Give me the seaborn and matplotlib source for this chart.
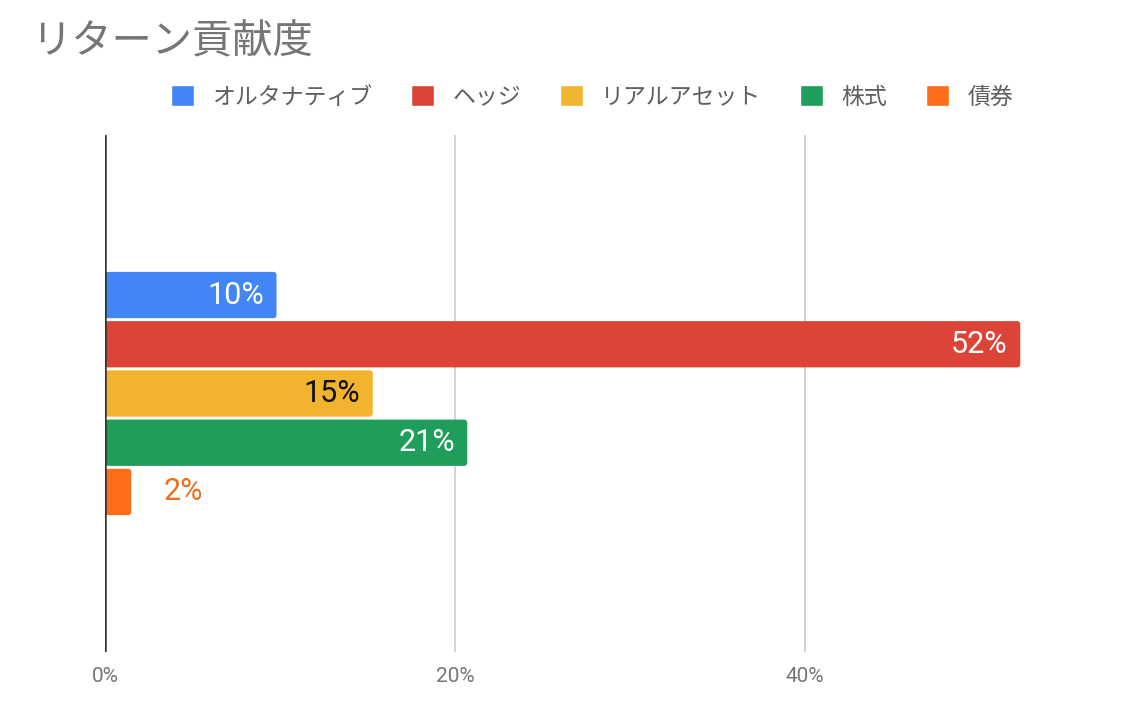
import numpy as np
import pandas as pd
import seaborn as sns
import matplotlib.pyplot as plt
from matplotlib.patches import FancyBboxPatch
from matplotlib.ticker import PercentFormatter

# データ
series = ['オルタナティブ', 'ヘッジ', 'リアルアセット', '株式', '債券']
values = [0.098, 0.523, 0.153, 0.207, 0.015]
category = ['リターン']
colors = ['#4285F4', '#DB4437', '#F2B32E', '#1F9D5A', '#FF6D1A']
label_colors = ['white', 'white', '#111111', 'white', '#E8711F']
label_inside = [True, True, True, True, False]

df = pd.DataFrame({'category': category * len(series), 'series': series, 'value': values})

sns.set_style('white')
plt.rcParams['font.family'] = ['Roboto', 'Noto Sans CJK JP', 'DejaVu Sans']

fig = plt.figure(figsize=(11.26, 7.12), dpi=100)
W, H = 1126, 712
ax = fig.add_axes([105 / W, 1 - 652 / H, 1000 / W, 517 / H])

sns.barplot(data=df, x='value', y='category', hue='series', palette=colors,
            orient='h', gap=0.06, saturation=1, ax=ax, legend=True)

xmax = 0.2 * 1000 / 350
ax.set_xlim(0, xmax)
ax.set_ylim(0.84, -0.84)
ax.xaxis.set_major_locator(plt.FixedLocator([0, 0.2, 0.4]))
ax.xaxis.set_major_formatter(PercentFormatter(1.0, decimals=0))
ax.set_yticks([])
ax.set_xlabel('')
ax.set_ylabel('')
for s in ax.spines.values():
    s.set_visible(False)
ax.grid(axis='x', color='#cccccc', linewidth=1.2)
ax.axvline(0, color='#333333', linewidth=1.8, zorder=4)
ax.tick_params(axis='x', length=0, pad=11, labelsize=15, labelcolor='#757575')

# 角丸のバーに置き換え
px_x = 1000 / xmax
px_y = 517 / 1.68
for cont in ax.containers:
    for p in cont.patches:
        x0, y0, w, h = p.get_x(), p.get_y(), p.get_width(), p.get_height()
        rb = FancyBboxPatch((x0, y0), w, h,
                            boxstyle=f'round,pad=0,rounding_size={3 / px_x}',
                            mutation_aspect=px_x / px_y,
                            facecolor=p.get_facecolor(), edgecolor='none', zorder=3)
        ax.add_patch(rb)
        p.set_visible(False)

# 値ラベル
for cont, c, inside in zip(ax.containers, label_colors, label_inside):
    for p in cont.patches:
        w = p.get_width()
        yc = p.get_y() + p.get_height() / 2
        txt = f'{w:.0%}'
        if inside:
            ax.annotate(txt, (w, yc), xytext=(-9, 0), textcoords='offset points',
                        ha='right', va='center', fontsize=22, color=c, zorder=5)
        else:
            ax.annotate(txt, (w, yc), xytext=(23, 0), textcoords='offset points',
                        ha='left', va='center', fontsize=22, color=c, zorder=5)

handles, labels = ax.get_legend_handles_labels()
ax.legend_.remove()
fig.legend(handles, labels, loc='center', bbox_to_anchor=(592 / W, 1 - 97 / H),
           ncol=5, frameon=False, fontsize=16.5, labelcolor='#5f5f5f',
           handlelength=1.0, handleheight=1.0, handletextpad=0.8, columnspacing=1.7)

fig.text(31 / W, 1 - 42 / H, 'リターン貢献度', fontsize=29, color='#757575',
         ha='left', va='center')

fig.savefig('out.png', dpi=100, facecolor='white')
